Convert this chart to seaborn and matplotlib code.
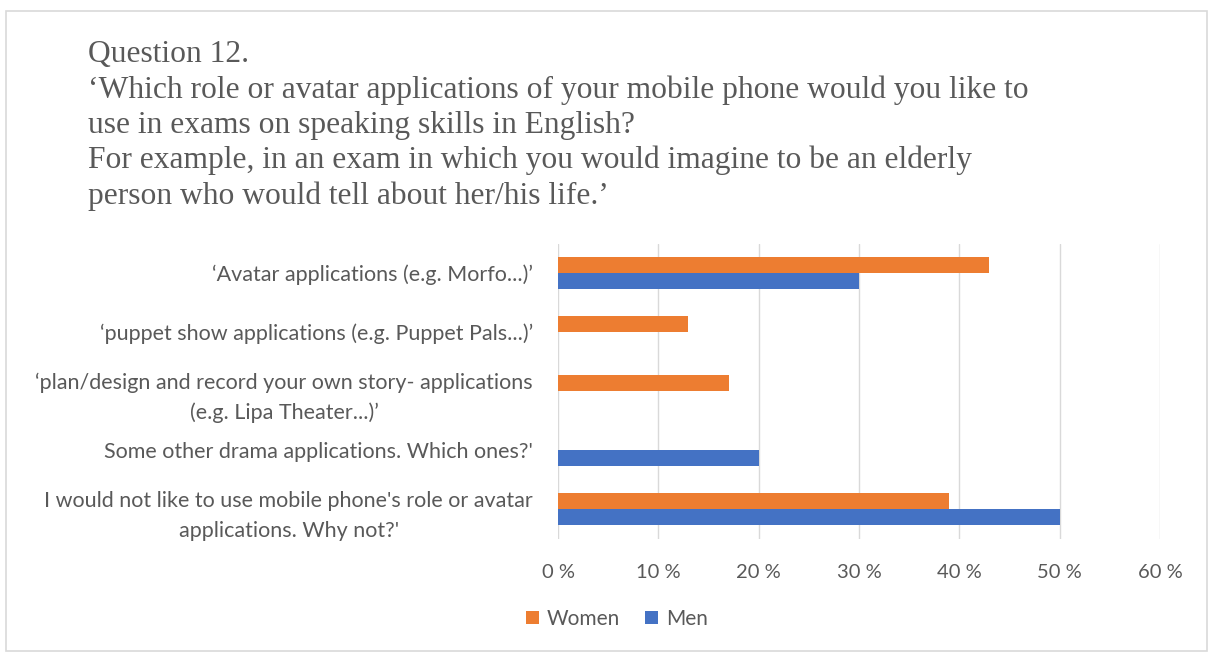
import matplotlib
matplotlib.use("Agg")
import matplotlib.pyplot as plt
from matplotlib.patches import Rectangle, Patch
import seaborn as sns
import pandas as pd

# Survey answers (share of respondents, %)
categories = [
    "\u2018Avatar applications (e.g. Morfo...)\u2019",
    "\u2018puppet show applications (e.g. Puppet Pals...)\u2019",
    "\u2018plan/design and record your own story- applications\n(e.g. Lipa Theater...)\u2019",
    "Some other drama applications. Which ones?'",
    "I would not like to use mobile phone's role or avatar\napplications. Why not?'",
]
women = [43, 13, 17, 0, 39]
men = [30, 0, 0, 20, 50]
series = ["Women", "Men"]
xticks = [0, 10, 20, 30, 40, 50, 60]
xtick_labels = ["0 %", "10 %", "20 %", "30 %", "40 %", "50 %", "60 %"]

title = ("Question 12.\n"
         "\u2018Which role or avatar applications of your mobile phone would you like to\n"
         "use in exams on speaking skills in English?\n"
         "For example, in an exam in which you would imagine to be an elderly\n"
         "person who would tell about her/his life.\u2019")

df = pd.DataFrame({
    "category": categories * 2,
    "value": women + men,
    "series": [series[0]] * len(categories) + [series[1]] * len(categories),
})

sns.set_theme(style="white")
plt.rcParams["font.family"] = ["Lato", "DejaVu Sans"]

text_color = "#595959"
palette = {"Women": "#ED7D31", "Men": "#4472C4"}

W, H = 1209, 653
fig = plt.figure(figsize=(W / 100, H / 100), dpi=100)
fig.patch.set_facecolor("white")

# light frame around the whole chart
fig.add_artist(Rectangle((6 / W, 2 / H), (W - 8) / W, (H - 13) / H,
                         transform=fig.transFigure, fill=False,
                         edgecolor="#d9d9d9", linewidth=1.2))

ax = fig.add_axes([558 / W, (H - 538.5) / H, 602 / W, 295 / H])
sns.barplot(data=df, x="value", y="category", hue="series", orient="h",
            palette=palette, width=0.54, ax=ax, legend=False,
            linewidth=0, saturation=1)

ax.set_xlim(0, 60)
ax.set_xticks(xticks)
ax.set_xticklabels(xtick_labels)
ax.grid(axis="x", color="#d9d9d9", linewidth=1)
ax.set_axisbelow(True)
for s in ax.spines.values():
    s.set_visible(False)
ax.set_xlabel("")
ax.set_ylabel("")
ax.tick_params(axis="x", length=0, pad=18, labelsize=14.5, labelcolor=text_color)
ax.tick_params(axis="y", length=0, pad=18, labelsize=15.5, labelcolor=text_color)
for lab in ax.get_yticklabels():
    lab.set_multialignment("center")
    lab.set_linespacing(1.6)

fig.text(88 / W, 1 - 40 / H, title, ha="left", va="top",
         fontsize=22.7, color=text_color, family="Liberation Serif",
         linespacing=1.27)

handles = [Patch(facecolor=palette[s], edgecolor="none", label=s) for s in series]
fig.legend(handles=handles, loc="center", bbox_to_anchor=(617 / W, 1 - 619 / H),
           ncol=2, frameon=False, fontsize=15, labelcolor=text_color,
           handlelength=0.6, handleheight=0.6, handletextpad=0.4,
           columnspacing=1.2)

fig.savefig("out.png", dpi=100)
